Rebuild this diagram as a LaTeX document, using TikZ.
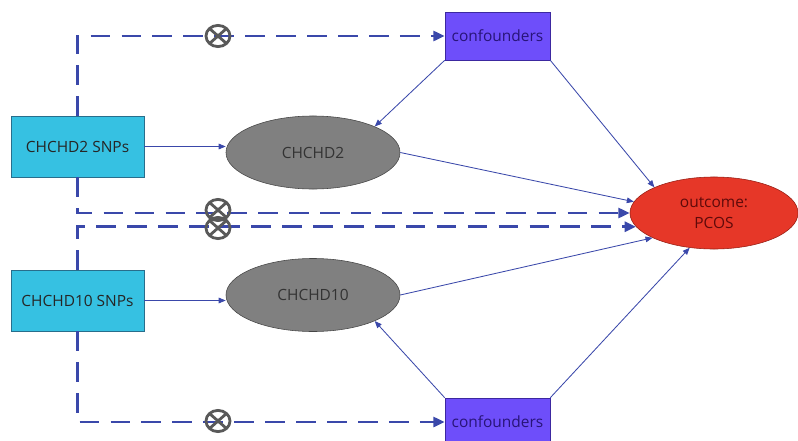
\documentclass[tikz,border=0pt]{standalone}
\usepackage{fontspec}
\setmainfont{Open Sans}
\usepackage{color}
\definecolor{mycyan}{RGB}{54,193,226}
\definecolor{mycyanline}{RGB}{40,110,140}
\definecolor{myviolet}{RGB}{110,78,250}
\definecolor{myvioletline}{RGB}{60,40,160}
\definecolor{myvioletink}{RGB}{40,20,120}
\definecolor{mygray}{RGB}{128,128,128}
\definecolor{mygrayline}{RGB}{70,70,70}
\definecolor{myred}{RGB}{230,55,40}
\definecolor{myredline}{RGB}{150,30,20}
\definecolor{myredink}{RGB}{95,10,10}
\definecolor{myblue}{RGB}{58,72,170}
\usepackage{tikz}
\usetikzlibrary{arrows.meta,positioning,shapes.geometric}

\begin{document}
\begin{tikzpicture}[
  x=0.025cm,
  y=-0.025cm,
  font=\fontsize{11}{15.5}\selectfont,
  snpbox/.style={
    draw=mycyanline,
    fill=mycyan,
    minimum width=3.325cm,
    minimum height=1.525cm,
    text=black!85
    },
  genebox/.style={
    ellipse,
    draw=mygrayline,
    fill=mygray,
    minimum width=4.35cm,
    minimum height=1.825cm,
    text=black!80
    },
  confbox/.style={
    draw=myvioletline,
    fill=myviolet,
    minimum width=2.625cm,
    minimum height=1.2cm,
    text=myvioletink
    },
  outbox/.style={
    ellipse,
    draw=myredline,
    fill=myred,
    minimum width=4.2cm,
    minimum height=1.8cm,
    align=center,
    text=myredink
    },
  link/.style={
    draw=myblue,
    line width=0.6pt,
    -{Triangle[length=5pt,width=4pt]}
    },
  dashlink/.style={
    draw=myblue,
    line width=2pt,
    dash pattern=on 14pt off 8pt,
    -{Triangle[length=8pt,width=7pt]}
    },
  xcirc/.style={
    ellipse,
    draw=black!65,
    line width=2pt,
    minimum width=0.6cm,
    minimum height=0.53cm,
    inner sep=0pt,
    path picture={
      \draw[black!65,line width=2pt]
        (path picture bounding box.north west) -- (path picture bounding box.south east)
        (path picture bounding box.north east) -- (path picture bounding box.south west);
      }
    }
]
\useasboundingbox (0,0) rectangle (798,441);

\node[snpbox] (snpa) at (77.5,146.5) {CHCHD2 SNPs};
\node[snpbox] (snpb) at (77.5,300.5) {CHCHD10 SNPs};
\node[genebox] (genea) at (313,152.5) {CHCHD2};
\node[genebox] (geneb) at (313,295) {CHCHD10};
\node[confbox] (confa) at (497.5,36) {confounders};
\node[confbox] (confb) at (497.5,422) {confounders};
\node[outbox] (outcome) at (714,213) {outcome:\\PCOS};

\draw[dashlink] (snpa.north) |- (confa.west);
\draw[dashlink] (snpa.south) |- (outcome.west);
\draw[dashlink] (snpb.north) |- (outcome.190);
\draw[dashlink] (snpb.south) |- (confb.west);

\draw[link] (snpa.east) -- (genea.west |- snpa.east);
\draw[link] (snpb.east) -- (geneb.west |- snpb.east);
\draw[link] (confa.south west) -- (genea.north east);
\draw[link] (confa.south east) -- (outcome.north west);
\draw[link] (genea.east) -- (outcome.172);
\draw[link] (geneb.east) -- (outcome.202);
\draw[link] (confb.north west) -- (geneb.south east);
\draw[link] (confb.north east) -- (outcome.235);

\foreach \ypos [count=\i from 1] in {36,210,228,421}
  \node[xcirc] (x\i) at (218,\ypos) {};

\end{tikzpicture}
\end{document}
